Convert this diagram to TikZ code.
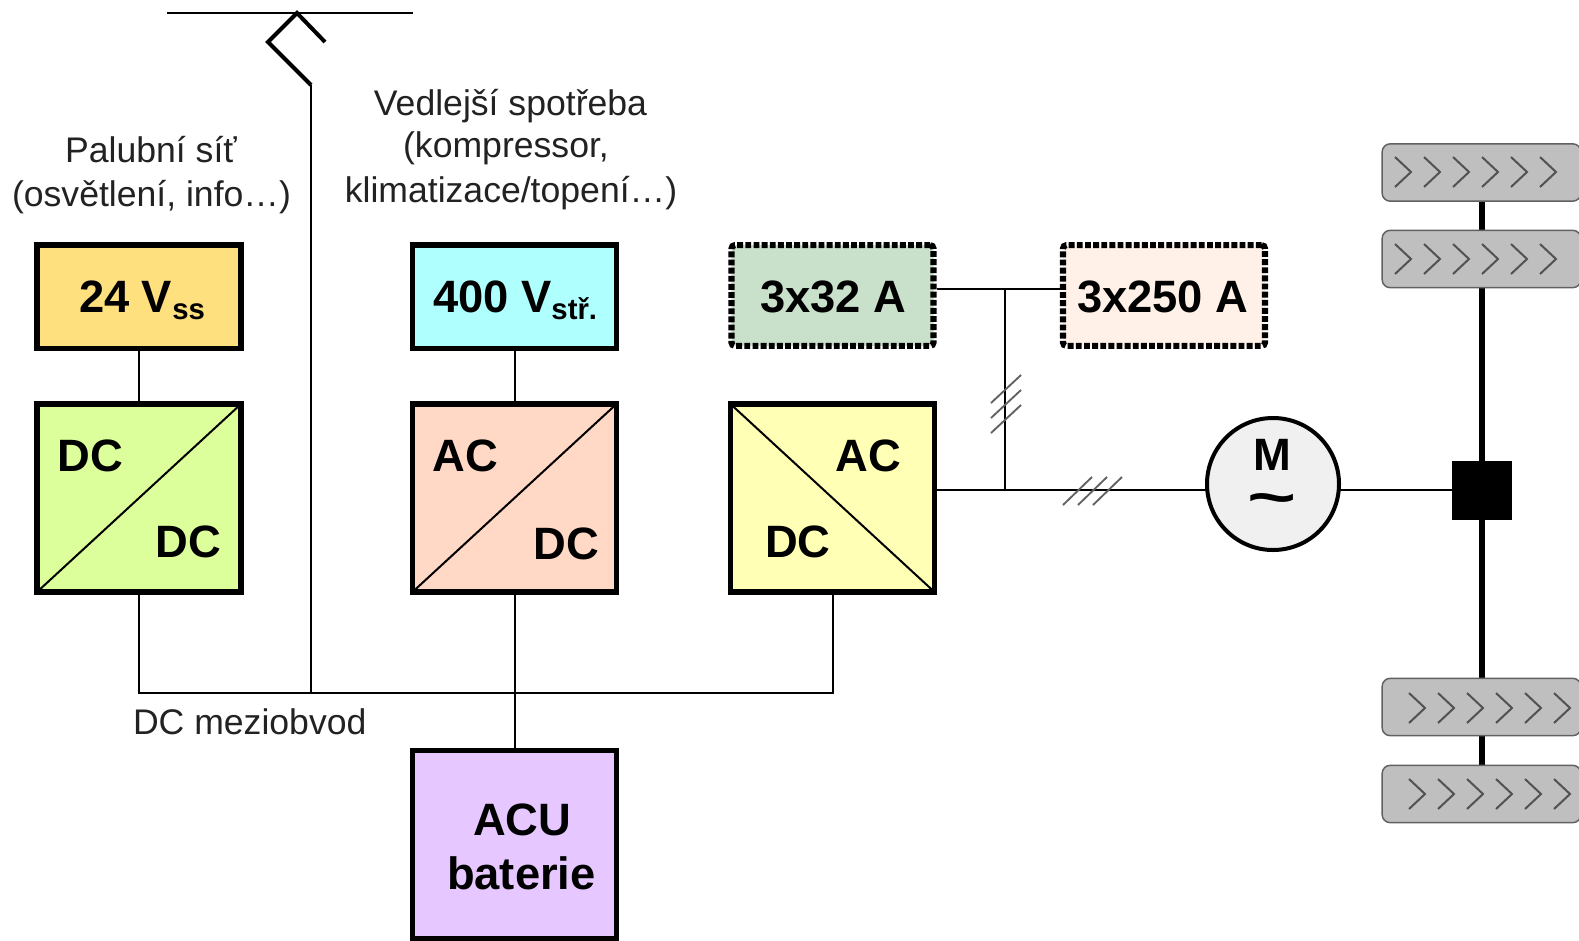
\documentclass[tikz,border=0pt]{standalone}
\usepackage{fontspec}
\setmainfont{Liberation Sans}
\definecolor{cVss}{HTML}{FFE07F}
\definecolor{cDD}{HTML}{DDFF9B}
\definecolor{cStr}{HTML}{AFFFFF}
\definecolor{cAD}{HTML}{FFD9C6}
\definecolor{cDA}{HTML}{FFFFB5}
\definecolor{cGr}{HTML}{C9E1CB}
\definecolor{cPe}{HTML}{FFF1E8}
\definecolor{cBat}{HTML}{E6C7FF}
\definecolor{cTxt}{HTML}{222222}
\tikzset{
  x=0.75pt,y=-0.75pt,
  mybox/.style={draw=black,line width=4pt,rectangle,inner sep=0,outer sep=0,minimum width=153pt},
  lowbox/.style={mybox,minimum height=77.5pt},
  tallbox/.style={mybox,minimum height=141pt},
  dotbox/.style={mybox,minimum width=151.5pt,minimum height=75.5pt,line width=4.6pt,rounded corners=2.5pt,dash pattern=on 4.4pt off 1.7pt},
  bigtxt/.style={anchor=base west,inner sep=0,outer sep=0,font=\fontsize{34}{34}\selectfont\bfseries},
  lbl/.style={anchor=base,inner sep=0,outer sep=0,text=cTxt,font=\fontsize{26.7}{26.7}\selectfont},
  wire/.style={line width=1.5pt},
  tickln/.style={line width=1.4pt,draw=black!62},
  wheelbox/.style={draw=black!62,fill=black!25,line width=1.1pt,rounded corners=6pt,inner sep=0,outer sep=0,minimum width=149pt,minimum height=43pt,rectangle},
  chev/.style={line width=1.5pt,draw=black!68,line join=miter},
}
\newcommand{\chevrons}[2]{\foreach \i in {0,...,5}{\draw[chev] (#1+\i*29,#2) -- (#1+16+\i*29,#2+15) -- (#1+\i*29,#2+30);}}
\begin{document}
\begin{tikzpicture}
\useasboundingbox (0,0) rectangle (1579,940);
\clip (0,0) rectangle (1579,940);
% boxes
\node[lowbox,fill=cVss] (vss) at (139,296.5) {};
\node[tallbox,fill=cDD] (dd) at (139,498) {};
\node[lowbox,fill=cStr] (str) at (514.5,296.5) {};
\node[tallbox,fill=cAD] (ad) at (514.5,498) {};
\node[dotbox,fill=cGr] (g32) at (832.5,295.5) {};
\node[tallbox,fill=cDA] (da) at (832.5,498) {};
\node[dotbox,fill=cPe] (p250) at (1164,295.5) {};
\node[tallbox,fill=cBat] (bat) at (514.5,844.5) {};
\node[circle,draw=black,fill=black!6,line width=3pt,inner sep=0,outer sep=0,minimum size=99pt] (mot) at (1273,484) {};
% diagonals
\draw[wire] (dd.south west) -- (dd.north east);
\draw[wire] (ad.south west) -- (ad.north east);
\draw[wire] (da.north west) -- (da.south east);
% overhead line and pantograph
\coordinate (ovL) at (167,13);
\coordinate (ovR) at (413,13);
\coordinate (ovM) at (297,13);
\coordinate (panA) at (268,42);
\coordinate (panB) at (325,42);
\coordinate (panC) at (311,85);
\coordinate (busL) at (139,693);
\coordinate (busP) at (311,693);
\coordinate (busM) at (514.5,693);
\coordinate (busR) at (832.5,693);
\draw[wire] (ovL) -- (ovR);
\draw[line width=3pt,line join=miter] (panB) -- (ovM) -- (panA) -- (panC);
\draw[wire] (panC) -- (busP);
% DC bus
\draw[wire] (dd.south) -- (busL) -- (busR) -- (da.south);
\draw[wire] (ad.south) -- (bat.north);
\draw[wire] (vss.south) -- (dd.north);
\draw[wire] (str.south) -- (ad.north);
% AC side
\coordinate (jTop) at (1005,289);
\coordinate (jBot) at (1005,490);
\coordinate (g32e) at (937,289);
\coordinate (p250w) at (1062,289);
\coordinate (dae) at (935,490);
\coordinate (motw) at (1207.5,490);
\coordinate (mote) at (1338.5,490);
\draw[wire] (g32e) -- (p250w);
\draw[wire] (jTop) -- (jBot);
\draw[wire] (dae) -- (motw);
\foreach \k in {0,1,2}{\draw[tickln] (991,403+\k*15) -- (1021,375+\k*15);}
\foreach \k in {0,1,2}{\draw[tickln] (1063+\k*15,505) -- (1092+\k*15,477);}
% drive axle
\node[rectangle,fill=black,inner sep=0,outer sep=0,minimum size=44.5pt] (gear) at (1482,490.5) {};
\draw[wire] (mote) -- (gear.west |- mote);
\coordinate (axT) at (1482,173);
\coordinate (axB) at (1482,794);
\draw[line width=4.8pt] (axT) -- (axB);
\node[wheelbox] (w1) at (1481.5,172.5) {};
\node[wheelbox] (w2) at (1481.5,259) {};
\node[wheelbox] (w3) at (1481.5,707) {};
\node[wheelbox] (w4) at (1481.5,794) {};
\chevrons{1395}{157}
\chevrons{1395}{244}
\chevrons{1409}{693}
\chevrons{1409}{779}
% labels
\node[bigtxt] (t24) at (79,312) {24 V\raisebox{-5.5pt}{\fontsize{22}{22}\selectfont ss}};
\node[bigtxt] (t400) at (433,312) {400 V\raisebox{-5.5pt}{\fontsize{22}{22}\selectfont stř.}};
\node[bigtxt] (t32) at (760,312) {3x32 A};
\node[bigtxt] (t250) at (1077,312) {3x250 A};
\node[bigtxt] (dd1) at (57.5,471) {DC};
\node[bigtxt] (dd2) at (155.5,557) {DC};
\node[bigtxt] (ad1) at (432.5,471) {AC};
\node[bigtxt] (ad2) at (533.5,559) {DC};
\node[bigtxt] (da1) at (835.5,471) {AC};
\node[bigtxt] (da2) at (765,557) {DC};
\node[bigtxt] (acu) at (473,835) {ACU};
\node[bigtxt] (btr) at (447,889) {baterie};
\node[bigtxt,anchor=base] (mm) at (1272,470) {M};
\node[anchor=center,inner sep=0,outer sep=0,font=\fontsize{42}{42}\selectfont\bfseries] (tld) at (1272,505) {\scalebox{1.5}[1]{\char"007E}};
\node[lbl] (l1) at (151,162) {Palubní síť};
\node[lbl] (l2) at (151.5,206) {(osvětlení, info…)};
\node[lbl] (l3) at (510.5,115) {Vedlejší spotřeba};
\node[lbl] (l4) at (506,157) {(kompressor,};
\node[lbl] (l5) at (511,202) {klimatizace/topení…)};
\node[lbl,anchor=base west] (l6) at (133,734) {DC meziobvod};
\end{tikzpicture}
\end{document}
